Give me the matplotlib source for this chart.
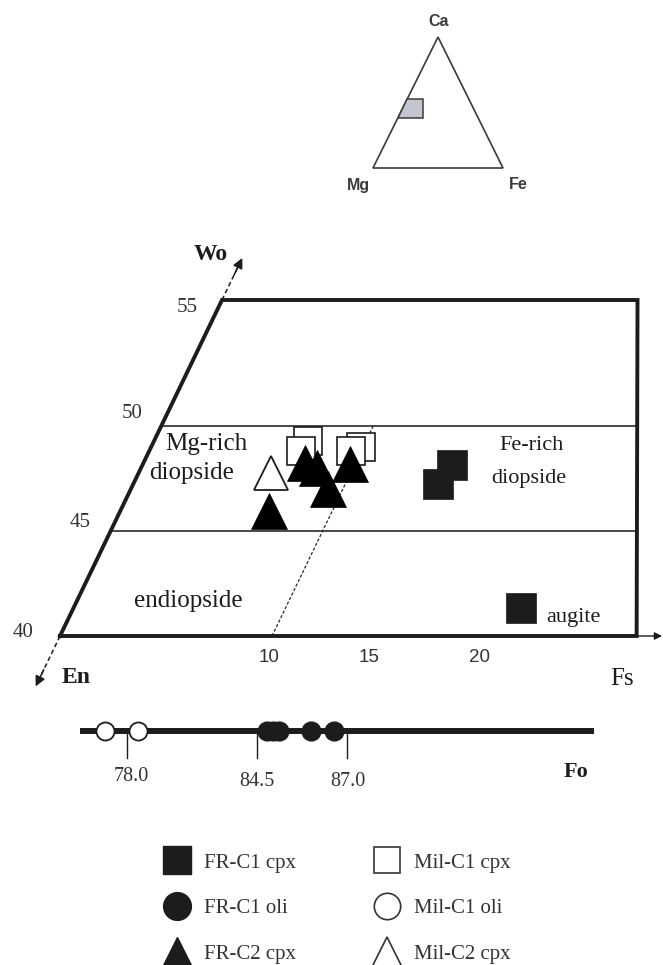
import numpy as np
import matplotlib
matplotlib.use('Agg')
import matplotlib.pyplot as plt
from matplotlib.transforms import Affine2D
from matplotlib.lines import Line2D
from matplotlib.patches import Polygon

# ------------------------------------------------------------------ data
# pyroxene quadrilateral, values as (Fs, Wo) in mol %
fr_c1_cpx_fs = [14.60, 14.37, 21.11]
fr_c1_cpx_wo = [48.14, 47.24, 41.33]
mil_c1_cpx_fs = [7.24, 7.15, 9.89, 9.54]
mil_c1_cpx_wo = [49.29, 48.83, 49.02, 48.81]
fr_c2_cpx_fs = [7.59, 8.27, 9.32, 9.77, 7.01]
fr_c2_cpx_wo = [48.26, 48.02, 47.00, 48.19, 45.95]
mil_c2_cpx_fs = [6.25]
mil_c2_cpx_wo = [47.74]

# olivine forsterite content
fr_c1_oli_fo = [84.78, 84.94, 85.11, 85.99, 86.63]
mil_c1_oli_fo = [76.90, 78.55]
fo_ticks = [78.0, 84.5, 87.0]
fo_range = [75.65, 93.8]

# diagram frame / fields
wo_frame = [40, 56]          # bottom and top of the frame
fs_right = [27.2, 19.6]      # Fs of the (vertical) right edge at bottom / top
wo_fields = [45, 50]
fs_tie = 10
wo_tick_labels = ['40', '45', '50', '55']
fs_tick_values = [10, 15, 20]

# ternary inset (Wo, Fs as fractions)
inset_wo = [0.53, 0.53, 0.38, 0.38]
inset_fs = [0.0, 0.12, 0.195, 0.0]

# ------------------------------------------------------------------ style
SERIF = ['Liberation Serif', 'DejaVu Serif']
SANS = ['Liberation Sans', 'DejaVu Sans']
INK = '#1c1c1c'

W, H = 663, 965
fig = plt.figure(figsize=(W / 100, H / 100), dpi=100)
ax = fig.add_axes([0, 0, 1, 1])
ax.set_autoscale_on(False)
ax.set_xlim(0, W)
ax.set_ylim(H, 0)
ax.axis('off')

# (Fs, Wo) -> figure pixels : sheared quadrilateral
quad = Affine2D(np.array([[21.2, 10.125, 60 - 10.125 * 40],
                          [0.0, -21.0, 636 + 21.0 * 40],
                          [0, 0, 1]])) + ax.transData
# ternary (Fs, Wo) fractions -> pixels
tern = Affine2D(np.array([[130.0, 65.0, 373.0],
                          [0.0, -131.0, 168.0],
                          [0, 0, 1]])) + ax.transData

# ---------------- ternary inset
ax.add_patch(Polygon([[0, 0], [1, 0], [0, 1]], closed=True, fill=False,
                     edgecolor='#3a3a3a', lw=1.2, transform=tern))
ax.add_patch(Polygon(np.column_stack([inset_fs, inset_wo]), closed=True,
                     facecolor='#c3c6ce', edgecolor='#3a3a3a', lw=1.1,
                     transform=tern))
ax.text(439, 26, 'Ca', family=SANS, fontsize=11.5, fontweight='bold',
        color='#3a3a3a', ha='center', va='baseline')
ax.text(358, 190, 'Mg', family=SANS, fontsize=11.5, fontweight='bold',
        color='#3a3a3a', ha='center', va='baseline')
ax.text(518, 189, 'Fe', family=SANS, fontsize=11.5, fontweight='bold',
        color='#3a3a3a', ha='center', va='baseline')

# ---------------- quadrilateral frame
fbot, ftop = wo_frame
frame_fs = [0, fs_right[0], fs_right[1], 0, 0]
frame_wo = [fbot, fbot, ftop, ftop, fbot]
ax.plot(frame_fs, frame_wo, color=INK, lw=2.8, transform=quad,
        solid_joinstyle='miter', zorder=3)
for wo in wo_fields:
    fr = np.interp(wo, wo_frame, fs_right)
    ax.plot([0, fr], [wo, wo], color='#2a2a2a', lw=1.2, transform=quad,
            zorder=2)
# tie line Fs = 10
ax.plot([fs_tie, fs_tie], [fbot, wo_fields[1]], color='#2a2a2a', lw=0.9,
        ls=(0, (2.5, 1.5)), transform=quad, zorder=2)

# axis arrows
ax.plot([0, 0], [ftop, ftop + 1.8], color=INK, lw=1.1, ls=(0, (3, 2)),
        transform=quad)
ax.annotate('', xy=(0, ftop + 2.0), xytext=(0, ftop + 1.2), xycoords=quad,
            textcoords=quad,
            arrowprops=dict(arrowstyle='-|>', color=INK, lw=1.1,
                            mutation_scale=15, shrinkA=0, shrinkB=0))
ax.plot([0, 0], [fbot, fbot - 2.2], color=INK, lw=1.1, ls=(0, (3, 2)),
        transform=quad)
ax.annotate('', xy=(0, fbot - 2.4), xytext=(0, fbot - 1.6), xycoords=quad,
            textcoords=quad,
            arrowprops=dict(arrowstyle='-|>', color=INK, lw=1.1,
                            mutation_scale=15, shrinkA=0, shrinkB=0))
ax.annotate('', xy=(fs_right[0] + 1.2, fbot), xytext=(fs_right[0], fbot),
            xycoords=quad, textcoords=quad,
            arrowprops=dict(arrowstyle='-|>', color=INK, lw=1.0,
                            mutation_scale=11, shrinkA=0, shrinkB=0))

# axis labels
ax.text(211, 260, 'Wo', family=SERIF, fontsize=17, fontweight='bold',
        color=INK, ha='center', va='baseline')
ax.text(76, 683, 'En', family=SERIF, fontsize=17, fontweight='bold',
        color=INK, ha='center', va='baseline')
ax.text(622, 685, 'Fs', family=SERIF, fontsize=18, color=INK,
        ha='center', va='baseline')

# Wo tick labels
for lab, (x, y) in zip(wo_tick_labels,
                       [(23, 637), (80, 527), (132, 418), (187, 312)]):
    ax.text(x, y, lab, family=SERIF, fontsize=15, color='#333333',
            ha='center', va='baseline')
# Fs tick labels
for v, x in zip(fs_tick_values, [269, 369, 480]):
    ax.text(x, 662, str(v), family=SANS, fontsize=13.5, color='#333333',
            ha='center', va='baseline')

# field names
fkw = dict(family=SERIF, color=INK, ha='center', va='baseline')
ax.text(206, 450, 'Mg-rich', fontsize=18, **fkw)
ax.text(192, 479, 'diopside', fontsize=18, **fkw)
ax.text(188, 607, 'endiopside', fontsize=18, **fkw)
ax.text(532, 450, 'Fe-rich', fontsize=16, **fkw)
ax.text(529, 483, 'diopside', fontsize=16, **fkw)
ax.text(573, 622, 'augite', fontsize=16, **fkw)

# ---------------- data points
ax.plot(fr_c1_cpx_fs, fr_c1_cpx_wo, ls='none', marker='s', ms=21,
        mfc=INK, mec=INK, mew=0.5, transform=quad, zorder=5)
ax.plot(mil_c1_cpx_fs, mil_c1_cpx_wo, ls='none', marker='s', ms=20,
        mfc='white', mec=INK, mew=1.2, transform=quad, zorder=5)
ax.plot(fr_c2_cpx_fs, fr_c2_cpx_wo, ls='none', marker='^', ms=26,
        mfc='black', mec='black', mew=0.5, transform=quad, zorder=6)
ax.plot(mil_c2_cpx_fs, mil_c2_cpx_wo, ls='none', marker='^', ms=25,
        mfc='white', mec=INK, mew=1.3, transform=quad, zorder=7)

# ---------------- Fo line (piecewise-linear schematic scale)
fo_px = [127.0, 257.0, 347.5]


def fo_fwd(v):
    v = np.asarray(v, dtype=float)
    s1 = (fo_px[1] - fo_px[0]) / (fo_ticks[1] - fo_ticks[0])
    s2 = (fo_px[2] - fo_px[1]) / (fo_ticks[2] - fo_ticks[1])
    return np.where(v < fo_ticks[1], fo_px[0] + (v - fo_ticks[0]) * s1,
                    fo_px[1] + (v - fo_ticks[1]) * s2)


def fo_inv(p):
    p = np.asarray(p, dtype=float)
    s1 = (fo_px[1] - fo_px[0]) / (fo_ticks[1] - fo_ticks[0])
    s2 = (fo_px[2] - fo_px[1]) / (fo_ticks[2] - fo_ticks[1])
    return np.where(p < fo_px[1], fo_ticks[0] + (p - fo_px[0]) / s1,
                    fo_ticks[1] + (p - fo_px[1]) / s2)


axf = fig.add_axes([0, 1 - 800 / H, 1, 100 / H])
axf.set_xscale('function', functions=(fo_fwd, fo_inv))
axf.set_xlim(float(fo_inv(0)), float(fo_inv(W)))
axf.set_ylim(100, 0)
axf.axis('off')
LY = 31  # line position inside the strip
axf.plot(fo_range, [LY, LY], color=INK, lw=4.3, solid_capstyle='butt',
         zorder=2)
for t in fo_ticks:
    axf.plot([t, t], [LY, LY + 27], color=INK, lw=1.0, zorder=1)
for t, yb in zip(fo_ticks, [81, 86, 86]):
    axf.text(t + 0.2 if t < 80 else t, yb, f'{t:.1f}', family=SERIF,
             fontsize=14.5, color='#333333', ha='center', va='baseline')
axf.text(93.3, 77, 'Fo', family=SERIF, fontsize=16, fontweight='bold',
         color=INK, ha='center', va='baseline')
axf.plot(fr_c1_oli_fo, [LY] * len(fr_c1_oli_fo), ls='none', marker='o',
         ms=13.5, mfc=INK, mec=INK, zorder=4)
axf.plot(mil_c1_oli_fo, [LY] * len(mil_c1_oli_fo), ls='none', marker='o',
         ms=13, mfc='white', mec=INK, mew=1.3, zorder=4)

# ---------------- legend
handles = [
    Line2D([], [], ls='none', marker='s', ms=20, mfc=INK, mec=INK),
    Line2D([], [], ls='none', marker='o', ms=20, mfc=INK, mec=INK),
    Line2D([], [], ls='none', marker='^', ms=22, mfc=INK, mec=INK),
    Line2D([], [], ls='none', marker='s', ms=19, mfc='white', mec='#333333',
           mew=1.2),
    Line2D([], [], ls='none', marker='o', ms=19, mfc='white', mec='#333333',
           mew=1.2),
    Line2D([], [], ls='none', marker='^', ms=21, mfc='white', mec='#333333',
           mew=1.2),
]
labels = ['FR-C1 cpx', 'FR-C1 oli', 'FR-C2 cpx',
          'Mil-C1 cpx', 'Mil-C1 oli', 'Mil-C2 cpx']
fig.legend(handles, labels, ncol=2, loc='upper left',
           bbox_to_anchor=(167 / W, 1 - 853 / H), frameon=False,
           prop={'family': SERIF, 'size': 15}, labelcolor='#333333',
           handlelength=1.0, handleheight=0.7, handletextpad=0.8,
           columnspacing=3.85, labelspacing=1.25, borderpad=0,
           borderaxespad=0)

fig.savefig('out.png', dpi=100)
